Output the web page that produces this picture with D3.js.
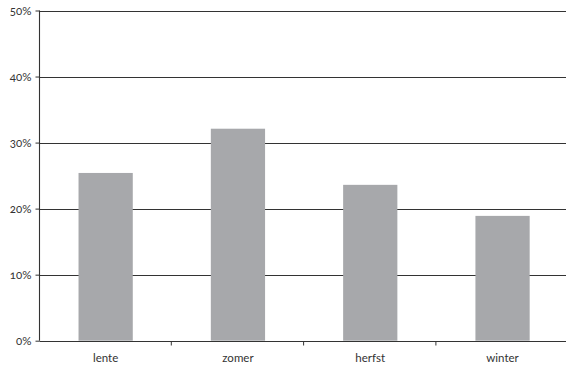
<!DOCTYPE html>
<html>
<head>
<meta charset="utf-8">
<script src="https://cdn.jsdelivr.net/npm/d3@7"></script>
<style>
  html, body { margin: 0; padding: 0; background: #fff; }
  svg { display: block; }
  text { font-family: Lato, "Open Sans", sans-serif; font-size: 11.5px; fill: #333; font-variant-numeric: oldstyle-nums; font-feature-settings: "onum" 1; }
</style>
</head>
<body>
<svg id="chart" width="566" height="368"></svg>
<script>
// Seasons and their share (percent)
const seasons = ["lente", "zomer", "herfst", "winter"];
const shares = [25.4, 32.1, 23.6, 18.9];
const yTicks = [0, 10, 20, 30, 40, 50];

const svg = d3.select("#chart");
const margin = { left: 39.5, top: 10.5, bottom: 27.5 };
const height = 368;
const plotBottom = height - margin.bottom;

const x = d3.scaleBand()
  .domain(seasons)
  .range([margin.left, margin.left + 4 * 132.3])
  .paddingInner(0.59)
  .paddingOuter(0.295);

const y = d3.scaleLinear()
  .domain([0, 50])
  .range([plotBottom + 0.2, margin.top]);

// Horizontal gridlines
svg.append("g")
  .selectAll("line")
  .data(yTicks.slice(1))
  .join("line")
  .attr("x1", margin.left)
  .attr("x2", 566)
  .attr("y1", d => Math.round(y(d)) + 0.5)
  .attr("y2", d => Math.round(y(d)) + 0.5)
  .attr("stroke", "#333")
  .attr("stroke-width", 1.1);

// Bars
svg.append("g")
  .selectAll("rect")
  .data(seasons)
  .join("rect")
  .attr("x", d => x(d))
  .attr("width", x.bandwidth())
  .attr("y", (d, i) => y(shares[i]))
  .attr("height", (d, i) => y(0) - y(shares[i]))
  .attr("fill", "#a7a8ab");

// Y axis
const yAxis = d3.axisLeft(y)
  .tickValues(yTicks)
  .tickFormat(d => d + "%")
  .tickSize(4)
  .tickPadding(4);
const gy = svg.append("g")
  .attr("transform", `translate(${margin.left},0)`)
  .call(yAxis);
gy.select(".domain").attr("stroke", "#333").attr("stroke-width", 1.1)
  .attr("d", `M0,${y(0)}V${y(50)}`);
gy.selectAll(".tick line").attr("stroke", "#333");
gy.selectAll(".tick text").attr("fill", "#333").style("font-size", "11.5px");

// X axis baseline with ticks at band boundaries
const gx = svg.append("g");
gx.append("line")
  .attr("x1", margin.left).attr("x2", 566)
  .attr("y1", Math.round(y(0)) + 0.5).attr("y2", Math.round(y(0)) + 0.5)
  .attr("stroke", "#333").attr("stroke-width", 1.1);
gx.selectAll("line.tick")
  .data(seasons.slice(1))
  .join("line")
  .attr("class", "tick")
  .attr("x1", d => x(d) - x.step() * x.paddingInner() / 2 - 0.5)
  .attr("x2", d => x(d) - x.step() * x.paddingInner() / 2 - 0.5)
  .attr("y1", Math.round(y(0)) + 0.5)
  .attr("y2", Math.round(y(0)) + 4.5)
  .attr("stroke", "#333");
gx.selectAll("text")
  .data(seasons)
  .join("text")
  .attr("x", d => x(d) + x.bandwidth() / 2)
  .attr("y", 362)
  .attr("text-anchor", "middle")
  .text(d => d);
</script>
</body>
</html>
